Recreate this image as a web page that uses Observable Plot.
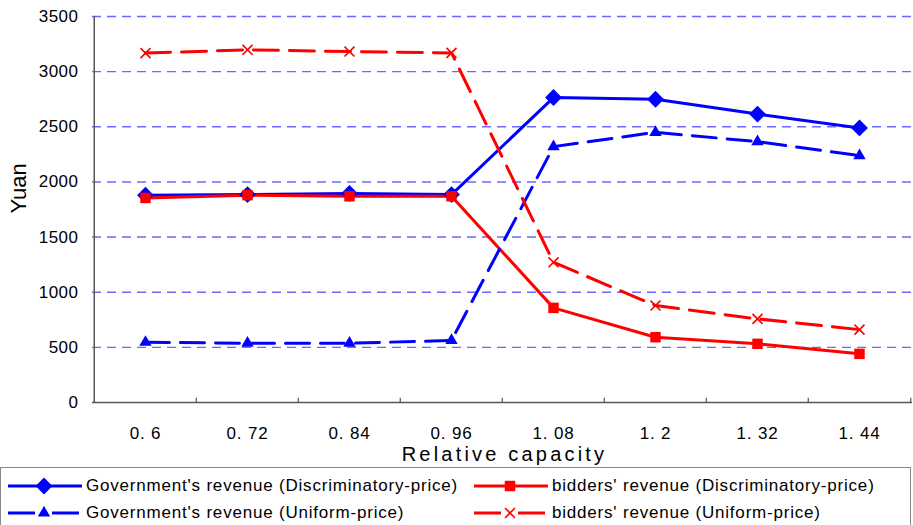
<!DOCTYPE html>
<html>
<head>
<meta charset="utf-8">
<script src="https://cdn.jsdelivr.net/npm/d3@7"></script>
<script src="https://cdn.jsdelivr.net/npm/@observablehq/plot@0.6"></script>
<style>
  html, body { margin: 0; padding: 0; background: #fff; }
  #wrap { position: relative; width: 913px; height: 525px; font-family: "Liberation Sans", Arial, sans-serif; }
  #legend {
    position: absolute; left: 0; top: 467px; width: 911px; height: 60px;
    border: 1px solid #888; box-sizing: border-box; background: #fff;
  }
  .item { position: absolute; display: flex; align-items: center; font-size: 17px; letter-spacing: 0.8px; color: #000; white-space: nowrap; }
  .item svg { display: block; margin-right: 4px; }
</style>
</head>
<body>
<div id="wrap"><div id="chart"></div><div id="legend"></div></div>
<script>
// Relative capacity (x categories) and their printed labels
const capacities = [0.6, 0.72, 0.84, 0.96, 1.08, 1.2, 1.32, 1.44];
const capacityLabels = ["0. 6", "0. 72", "0. 84", "0. 96", "1. 08", "1. 2", "1. 32", "1. 44"];
const yTicks = [0, 500, 1000, 1500, 2000, 2500, 3000, 3500];

// Revenue in Yuan
const govDiscriminatory = [1880, 1885, 1895, 1885, 2765, 2750, 2615, 2490];
const bidDiscriminatory = [1855, 1880, 1870, 1870, 858, 592, 532, 441];
const govUniform = [546, 537, 537, 563, 2320, 2450, 2365, 2238];
const bidUniform = [3168, 3198, 3182, 3170, 1271, 879, 758, 661];

const series = [
  {name: "Government's revenue (Discriminatory-price)", values: govDiscriminatory, color: "#0000ff", dash: null, symbol: "diamond2", r: 7.6, fill: true},
  {name: "bidders' revenue (Discriminatory-price)", values: bidDiscriminatory, color: "#ff0000", dash: null, symbol: "square", r: 5.9, fill: true},
  {name: "Government's revenue (Uniform-price)", values: govUniform, color: "#0000ff", dash: "24,11", symbol: "triangle", r: 4.6, fill: true},
  {name: "bidders' revenue (Uniform-price)", values: bidUniform, color: "#ff0000", dash: "25,11", symbol: "times", r: 4.6, fill: false}
];

const rows = series.flatMap(s => s.values.map((v, i) => ({series: s.name, x: capacities[i], y: v})));

const W = 913, H = 467, mL = 92, mR = 1, mT = 16, mB = 65;
const step = (W - mL - mR) / capacities.length;
const labelOf = new Map(capacities.map((c, i) => [c, capacityLabels[i]]));
const xTitle = "Relative capacity";

const marks = [
  // dashed horizontal grid
  Plot.ruleY(yTicks.filter(d => d > 0), {stroke: "#6a6aff", strokeWidth: 1.4, strokeDasharray: "9,6"}),
  // value axis line (left edge of the first category band)
  Plot.ruleX([capacities[0]], {dx: -step / 2, stroke: "#555", strokeWidth: 1.5}),
  // category boundary ticks
  Plot.ruleX(capacities.slice(1), {dx: -step / 2, y1: 0, y2: 38, stroke: "#555", strokeWidth: 1.2}),
  Plot.ruleX([capacities[capacities.length - 1]], {dx: step / 2, y1: 0, y2: 38, stroke: "#555", strokeWidth: 1.2}),
  Plot.ruleY([0], {stroke: "#555", strokeWidth: 1.5}),
  Plot.axisX({tickSize: 0, tickPadding: 24, fontSize: 17, tickFormat: d => labelOf.get(d), label: null}),
  Plot.axisY({ticks: yTicks, tickSize: 0, tickPadding: 14, fontSize: 17, tickFormat: d => String(d), label: null}),
  Plot.text([xTitle], {frameAnchor: "bottom", dx: 2, dy: 58, fontSize: 20, fill: "#000"}),
  Plot.text(["Yuan"], {frameAnchor: "left", dx: -74, dy: 4, rotate: -90, fontSize: 22, fill: "#000"})
];

for (const s of series) {
  const data = rows.filter(d => d.series === s.name);
  marks.push(Plot.line(data, {x: "x", y: "y", stroke: s.color, strokeWidth: 3, strokeDasharray: s.dash ?? undefined}));
}
for (const s of series) {
  const data = rows.filter(d => d.series === s.name);
  marks.push(Plot.dot(data, s.fill
    ? {x: "x", y: "y", symbol: s.symbol, r: s.r, fill: s.color, stroke: null}
    : {x: "x", y: "y", symbol: s.symbol, r: s.r, stroke: s.color, strokeWidth: 1.6, fill: "none"}));
}

const chart = Plot.plot({
  width: W, height: H,
  marginLeft: mL, marginRight: mR, marginTop: mT, marginBottom: mB,
  style: {fontFamily: "'Liberation Sans', Arial, sans-serif", color: "#000", background: "#fff"},
  x: {type: "point", domain: capacities, padding: 0.5, axis: null},
  y: {domain: [0, 3500], axis: null},
  marks
});

// widen the tracking of the axis texts
const tickSet = new Set(capacityLabels);
d3.select(chart).selectAll("text").each(function () {
  const t = this.textContent;
  if (t === xTitle) this.setAttribute("letter-spacing", "3.2");
  else if (tickSet.has(t)) this.setAttribute("letter-spacing", "0.8");
  else if (/^\d+$/.test(t)) this.setAttribute("letter-spacing", "0.5");
});
document.getElementById("chart").appendChild(chart);

// legend: 2 x 2 grid of line + marker samples
const legend = document.getElementById("legend");
const symbolOf = {diamond2: d3.symbolDiamond2, square: d3.symbolSquare, triangle: d3.symbolTriangle, times: d3.symbolTimes};
const slots = [
  {left: 7, top: 8}, {left: 473, top: 8}, {left: 7, top: 35}, {left: 473, top: 35}
];
series.forEach((s, i) => {
  const item = document.createElement("div");
  item.className = "item";
  item.style.left = slots[i].left + "px";
  item.style.top = slots[i].top + "px";
  const sw = 74, sh = 20;
  const svg = d3.create("svg").attr("width", sw).attr("height", sh);
  svg.append("line").attr("x1", 0).attr("x2", sw).attr("y1", sh / 2).attr("y2", sh / 2)
    .attr("stroke", s.color).attr("stroke-width", 3)
    .attr("stroke-dasharray", s.dash ? "27,17" : null);
  const path = d3.symbol(symbolOf[s.symbol], Math.PI * s.r * s.r)();
  const p = svg.append("path").attr("d", path).attr("transform", `translate(${sw / 2 - 1},${sh / 2})`);
  if (s.fill) p.attr("fill", s.color); else p.attr("fill", "none").attr("stroke", s.color).attr("stroke-width", 1.6);
  item.appendChild(svg.node());
  const t = document.createElement("span");
  t.textContent = s.name;
  item.appendChild(t);
  legend.appendChild(item);
});
</script>
</body>
</html>
